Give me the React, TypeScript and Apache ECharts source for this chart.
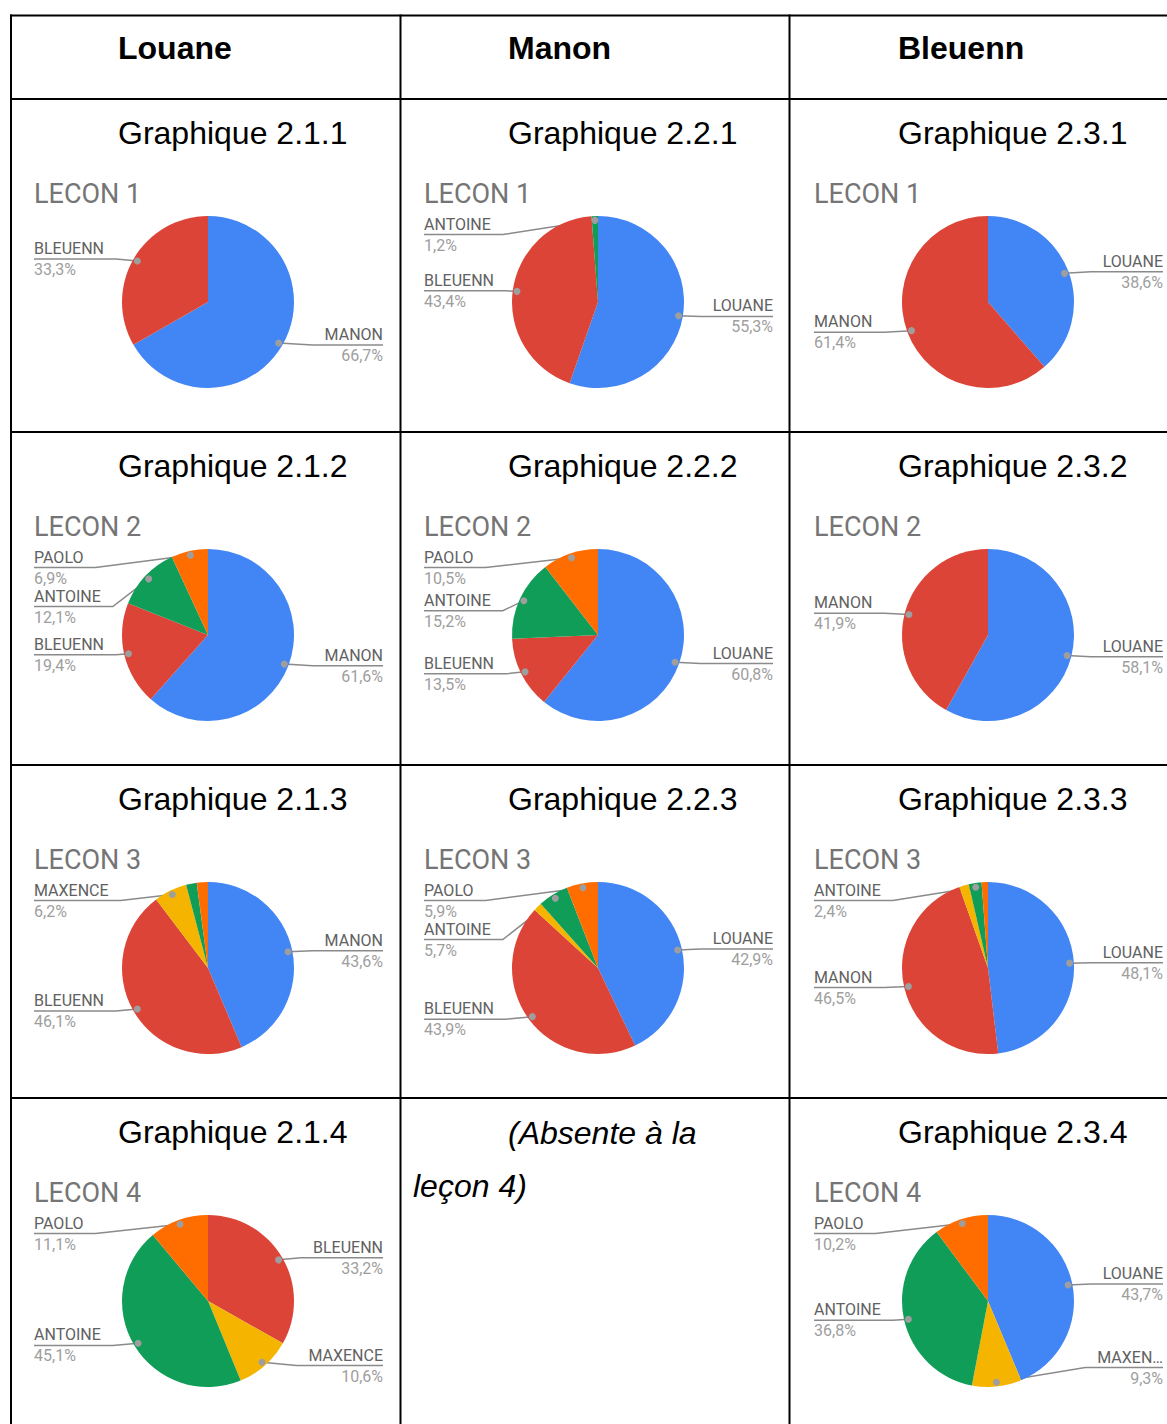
import React, { useEffect, useRef } from "react";
import * as echarts from "echarts";

// ---------- texts ----------
const HEADERS = ["Louane", "Manon", "Bleuenn"];
const LESSONS = ["LECON 1", "LECON 2", "LECON 3", "LECON 4"];
const ABSENT_LINES = ["(Absente à la", "leçon 4)"];

// ---------- colours ----------
const BLUE = "#4285F4";
const RED = "#DB4437";
const YELLOW = "#F4B400";
const GREEN = "#0F9D58";
const ORANGE = "#FF6D00";

// ---------- data (percent) ----------
// Louane column
const names211 = ["MANON", "BLEUENN"];
const values211 = [66.7, 33.3];
const colors211 = [BLUE, RED];

const names212 = ["MANON", "BLEUENN", "ANTOINE", "PAOLO"];
const values212 = [61.6, 19.4, 12.1, 6.9];
const colors212 = [BLUE, RED, GREEN, ORANGE];

const names213 = ["MANON", "BLEUENN", "MAXENCE", "ANTOINE", "PAOLO"];
const values213 = [43.6, 46.1, 6.2, 2.0, 2.1];
const colors213 = [BLUE, RED, YELLOW, GREEN, ORANGE];
const hidden213 = [3, 4];

const names214 = ["BLEUENN", "MAXENCE", "ANTOINE", "PAOLO"];
const values214 = [33.2, 10.6, 45.1, 11.1];
const colors214 = [RED, YELLOW, GREEN, ORANGE];

// Manon column
const names221 = ["LOUANE", "BLEUENN", "ANTOINE"];
const values221 = [55.3, 43.4, 1.2];
const colors221 = [BLUE, RED, GREEN];

const names222 = ["LOUANE", "BLEUENN", "ANTOINE", "PAOLO"];
const values222 = [60.8, 13.5, 15.2, 10.5];
const colors222 = [BLUE, RED, GREEN, ORANGE];

const names223 = ["LOUANE", "BLEUENN", "MAXENCE", "ANTOINE", "PAOLO"];
const values223 = [42.9, 43.9, 1.6, 5.7, 5.9];
const colors223 = [BLUE, RED, YELLOW, GREEN, ORANGE];
const hidden223 = [2];

// Bleuenn column
const names231 = ["LOUANE", "MANON"];
const values231 = [38.6, 61.4];
const colors231 = [BLUE, RED];

const names232 = ["LOUANE", "MANON"];
const values232 = [58.1, 41.9];
const colors232 = [BLUE, RED];

const names233 = ["LOUANE", "MANON", "MAXENCE", "ANTOINE", "PAOLO"];
const values233 = [48.1, 46.5, 1.8, 2.4, 1.2];
const colors233 = [BLUE, RED, YELLOW, GREEN, ORANGE];
const hidden233 = [2, 4];

const names234 = ["LOUANE", "MAXEN…", "ANTOINE", "PAOLO"];
const values234 = [43.7, 9.3, 36.8, 10.2];
const colors234 = [BLUE, YELLOW, GREEN, ORANGE];

type ChartDef = {
  col: number;
  row: number;
  names: string[];
  values: number[];
  colors: string[];
  hidden: number[];
};

const CHARTS: ChartDef[] = [
  { col: 0, row: 0, names: names211, values: values211, colors: colors211, hidden: [] },
  { col: 0, row: 1, names: names212, values: values212, colors: colors212, hidden: [] },
  { col: 0, row: 2, names: names213, values: values213, colors: colors213, hidden: hidden213 },
  { col: 0, row: 3, names: names214, values: values214, colors: colors214, hidden: [] },
  { col: 1, row: 0, names: names221, values: values221, colors: colors221, hidden: [] },
  { col: 1, row: 1, names: names222, values: values222, colors: colors222, hidden: [] },
  { col: 1, row: 2, names: names223, values: values223, colors: colors223, hidden: hidden223 },
  { col: 2, row: 0, names: names231, values: values231, colors: colors231, hidden: [] },
  { col: 2, row: 1, names: names232, values: values232, colors: colors232, hidden: [] },
  { col: 2, row: 2, names: names233, values: values233, colors: colors233, hidden: hidden233 },
  { col: 2, row: 3, names: names234, values: values234, colors: colors234, hidden: [] },
];

// ---------- layout ----------
const PAGE_W = 1167;
const PAGE_H = 1424;
const V_LINES = [11, 400.5, 789.5];
const H_LINES = [15.5, 99, 432, 765, 1098];
const ROW_TOP = [99, 432, 765, 1098];
const TITLE_X = [118, 508, 898];
const BOX_LEFT = [34, 424, 814];
const BOX_W = 349;
const BOX_TOP_OFF = 116;
const BOX_H = 173;
const PIE_CX = 174;
const PIE_CY = 87;
const PIE_R = 86;

const fmt = (v: number) => v.toFixed(1).replace(".", ",") + "%";

export default function App() {
  const ref = useRef<HTMLDivElement>(null);

  useEffect(() => {
    if (!ref.current) return;
    const chart = echarts.init(ref.current, null, { renderer: "svg" });
    const dots: Record<string, number[]> = {};

    const tableEls: any[] = [];
    H_LINES.forEach((y, i) => {
      tableEls.push({
        type: "line",
        id: "h" + i,
        z: 100,
        shape: { x1: 10, y1: y, x2: PAGE_W, y2: y },
        style: { stroke: "#000", lineWidth: 2 },
      });
    });
    V_LINES.forEach((x, i) => {
      tableEls.push({
        type: "line",
        id: "v" + i,
        z: 100,
        shape: { x1: x, y1: 14.5, x2: x, y2: PAGE_H },
        style: { stroke: "#000", lineWidth: 2 },
      });
    });
    HEADERS.forEach((h, i) => {
      tableEls.push({
        type: "text",
        id: "hd" + i,
        z: 100,
        x: TITLE_X[i],
        y: 48,
        style: {
          text: h,
          fontSize: 32,
          fontWeight: "bold",
          fontFamily: "'Liberation Sans', Arial, sans-serif",
          fill: "#000",
          align: "left",
          verticalAlign: "middle",
        },
      });
    });
    CHARTS.forEach((c, i) => {
      const top = ROW_TOP[c.row];
      tableEls.push({
        type: "text",
        id: "gt" + i,
        z: 100,
        x: TITLE_X[c.col],
        y: top + 34,
        style: {
          text: `Graphique 2.${c.col + 1}.${c.row + 1}`,
          fontSize: 32,
          fontFamily: "'Liberation Sans', Arial, sans-serif",
          fill: "#000",
          align: "left",
          verticalAlign: "middle",
        },
      });
      tableEls.push({
        type: "text",
        id: "lt" + i,
        z: 100,
        x: BOX_LEFT[c.col],
        y: top + 95,
        style: {
          text: LESSONS[c.row],
          fontSize: 27,
          fontFamily: "Roboto, sans-serif",
          fill: "#757575",
          align: "left",
          verticalAlign: "middle",
        },
      });
    });
    tableEls.push({
      type: "text",
      id: "abs0",
      z: 100,
      x: 508,
      y: 1133,
      style: {
        text: ABSENT_LINES[0],
        fontSize: 32,
        fontStyle: "italic",
        fontFamily: "'Liberation Sans', Arial, sans-serif",
        fill: "#000",
        align: "left",
        verticalAlign: "middle",
      },
    });
    tableEls.push({
      type: "text",
      id: "abs1",
      z: 100,
      x: 413,
      y: 1186,
      style: {
        text: ABSENT_LINES[1],
        fontSize: 32,
        fontStyle: "italic",
        fontFamily: "'Liberation Sans', Arial, sans-serif",
        fill: "#000",
        align: "left",
        verticalAlign: "middle",
      },
    });

    const series = CHARTS.map((c, si) => {
      const boxLeft = BOX_LEFT[c.col];
      const boxTop = ROW_TOP[c.row] + BOX_TOP_OFF;
      const cxAbs = boxLeft + PIE_CX;
      const cyAbs = boxTop + PIE_CY;
      return {
        type: "pie",
        left: boxLeft,
        top: boxTop,
        width: BOX_W,
        height: BOX_H,
        center: [PIE_CX, PIE_CY],
        radius: PIE_R,
        startAngle: 90,
        clockwise: true,
        silent: true,
        avoidLabelOverlap: true,
        itemStyle: { borderWidth: 0 },
        label: {
          show: true,
          alignTo: "edge",
          edgeDistance: 0,
          distanceToLabelLine: 0,
          formatter: (p: any) => `{n|${p.name}}\n{v|${fmt(p.value)}}`,
          rich: {
            n: { fontSize: 16, fontFamily: "Roboto, sans-serif", color: "#616161", lineHeight: 21 },
            v: { fontSize: 16, fontFamily: "Roboto, sans-serif", color: "#9e9e9e", lineHeight: 21 },
          },
        },
        labelLine: {
          show: true,
          length: 0,
          length2: 10,
          lineStyle: { color: "#8a8a8a", width: 1.5 },
        },
        labelLayout: (p: any) => {
          const pts = p.labelLinePoints;
          const r = p.labelRect;
          if (!pts || !r || !pts.length) return {};
          const p0 = pts[0];
          const dx = p0[0] - cxAbs;
          const dy = p0[1] - cyAbs;
          const len = Math.hypot(dx, dy) || 1;
          const dot = [cxAbs + (dx / len) * PIE_R * 0.95, cyAbs + (dy / len) * PIE_R * 0.95];
          dots[`${si}-${p.dataIndex}`] = dot;
          const ly = r.y + r.height / 2;
          const isLeft = r.x + r.width / 2 < cxAbs;
          const inner = isLeft ? r.x + r.width + 12 : r.x - 12;
          const outer = isLeft ? r.x : r.x + r.width;
          return { labelLinePoints: [dot, [inner, ly], [outer, ly]] };
        },
        data: c.names.map((n, i) => {
          const hide = c.hidden.indexOf(i) >= 0;
          const item: any = { name: n, value: c.values[i], itemStyle: { color: c.colors[i] } };
          if (hide) {
            item.label = { show: false };
            item.labelLine = { show: false };
          }
          return item;
        }),
      };
    });

    chart.setOption({
      animation: false,
      backgroundColor: "#ffffff",
      textStyle: { fontFamily: "Roboto, sans-serif" },
      graphic: { elements: tableEls },
      series,
    } as any);

    const dotEls = Object.keys(dots).map((k) => ({
      type: "circle",
      id: "dot-" + k,
      z: 101,
      shape: { cx: dots[k][0], cy: dots[k][1], r: 3.5 },
      style: { fill: "#9e9e9e" },
    }));
    chart.setOption({ graphic: { elements: [...tableEls, ...dotEls] } } as any);

    return () => chart.dispose();
  }, []);

  return (
    <div
      ref={ref}
      style={{ position: "absolute", left: 0, top: 0, width: PAGE_W, height: PAGE_H, background: "#fff" }}
    />
  );
}
